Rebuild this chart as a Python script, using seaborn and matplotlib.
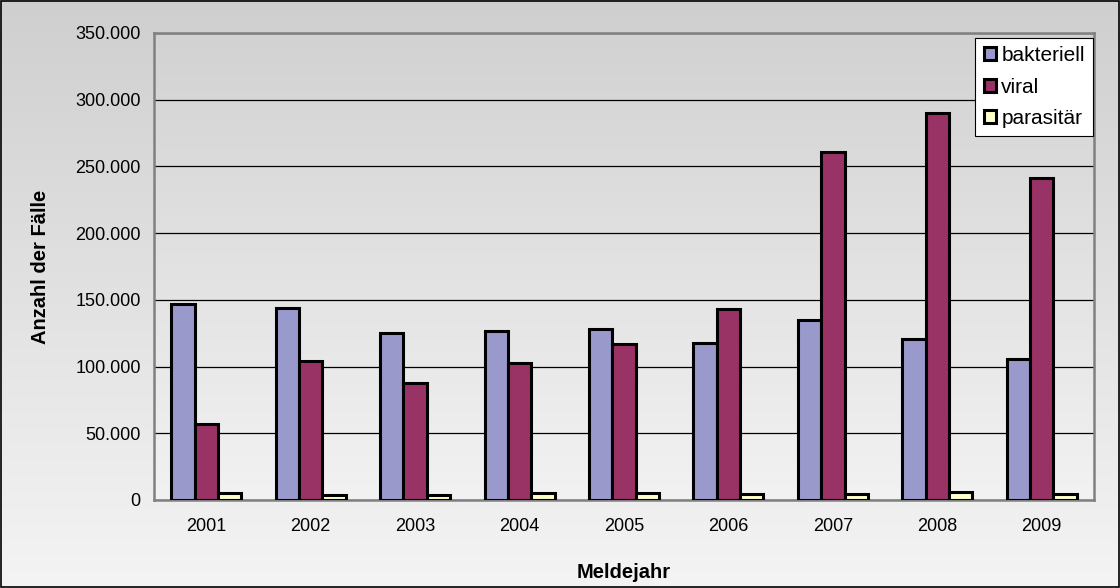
import numpy as np
import pandas as pd
import matplotlib
matplotlib.use("Agg")
import matplotlib.pyplot as plt
import seaborn as sns
from matplotlib.ticker import FuncFormatter, FixedLocator

# ─── Data ───────────────────────────────────────────────────────────────────
years = ["2001", "2002", "2003", "2004", "2005", "2006", "2007", "2008", "2009"]
bakteriell = [147000, 144000, 125000, 127000, 128500, 118000, 135000, 121000, 106000]
viral = [57000, 104000, 88000, 103000, 117000, 143000, 261000, 290000, 241000]
parasitaer = [5000, 3800, 4000, 5500, 5500, 4500, 4800, 5700, 4700]

series_names = ["bakteriell", "viral", "parasitär"]
colors = ["#9999cc", "#993366", "#ffffcc"]

df = pd.DataFrame({
    "Meldejahr": years * 3,
    "Fälle": bakteriell + viral + parasitaer,
    "Typ": [s for s in series_names for _ in years],
})

# ─── Style ──────────────────────────────────────────────────────────────────
sns.set_style("white")
plt.rcParams["font.family"] = ["Liberation Sans", "DejaVu Sans"]
plt.rcParams["text.color"] = "black"
plt.rcParams["axes.labelcolor"] = "black"
plt.rcParams["xtick.color"] = "black"
plt.rcParams["ytick.color"] = "black"

fig = plt.figure(figsize=(11.2, 5.88), dpi=100)

# figure background gradient
bg = fig.add_axes([0, 0, 1, 1], zorder=-10)
grad = np.linspace(0, 1, 256).reshape(-1, 1)
bg.imshow(grad, aspect="auto", cmap=matplotlib.colors.LinearSegmentedColormap.from_list(
    "g", ["#cfcfcf", "#f4f4f4"]), extent=[0, 1, 0, 1], origin="upper")
bg.set_axis_off()
fig.add_artist(plt.Rectangle((0.001, 0.002), 0.998, 0.996, transform=fig.transFigure,
                             fill=False, edgecolor="black", linewidth=1.2))

ax = fig.add_axes([154 / 1120, 88 / 588, 940 / 1120, 467 / 588])
ax.set_facecolor("none")

sns.barplot(data=df, x="Meldejahr", y="Fälle", hue="Typ", palette=colors,
            saturation=1, width=0.67, edgecolor="black", linewidth=2.2, ax=ax,
            zorder=3, gap=0.0)

# plot area gradient
ax.imshow(grad, aspect="auto", cmap=matplotlib.colors.LinearSegmentedColormap.from_list(
    "p", ["#d2d2d2", "#f2f2f2"]), extent=[-0.5, 8.5, 0, 350000], origin="upper", zorder=0)
ax.set_xlim(-0.5, 8.5)
ax.set_ylim(0, 350000)

ax.set_yticks(np.arange(0, 350001, 50000))
ax.yaxis.set_major_formatter(FuncFormatter(lambda v, p: f"{int(v):,}".replace(",", ".")))
ax.grid(axis="y", color="black", linewidth=0.9, zorder=1)
for gl in ax.get_ygridlines():
    gl.set_zorder(1)

ax.tick_params(axis="x", which="major", length=0, pad=13, labelsize=13)
ax.xaxis.set_minor_locator(FixedLocator(np.arange(-0.5, 9, 1)))
ax.tick_params(axis="x", which="minor", length=4.5, width=1, color="#606060", direction="out")
ax.tick_params(axis="y", length=5.5, width=1, color="#606060", direction="out",
               labelsize=13, pad=4)

for sp in ax.spines.values():
    sp.set_edgecolor("#808080")
    sp.set_linewidth(1.8)

ax.set_xlabel("Meldejahr", fontsize=14.5, fontweight="bold", labelpad=20)
ax.set_ylabel("Anzahl der Fälle", fontsize=14.5, fontweight="bold", labelpad=18)

leg = ax.legend(loc="upper right", bbox_to_anchor=(0.999, 0.99), frameon=True, fancybox=False,
                edgecolor="black", facecolor="white", framealpha=1, fontsize=15,
                handlelength=0.6, handleheight=0.6, handletextpad=0.25,
                labelspacing=0.6, borderpad=0.4, borderaxespad=0)
leg.get_frame().set_linewidth(0.8)
leg.set_zorder(5)
for h in leg.legend_handles:
    h.set_linewidth(2.2)

fig.savefig("out.png", dpi=100)
